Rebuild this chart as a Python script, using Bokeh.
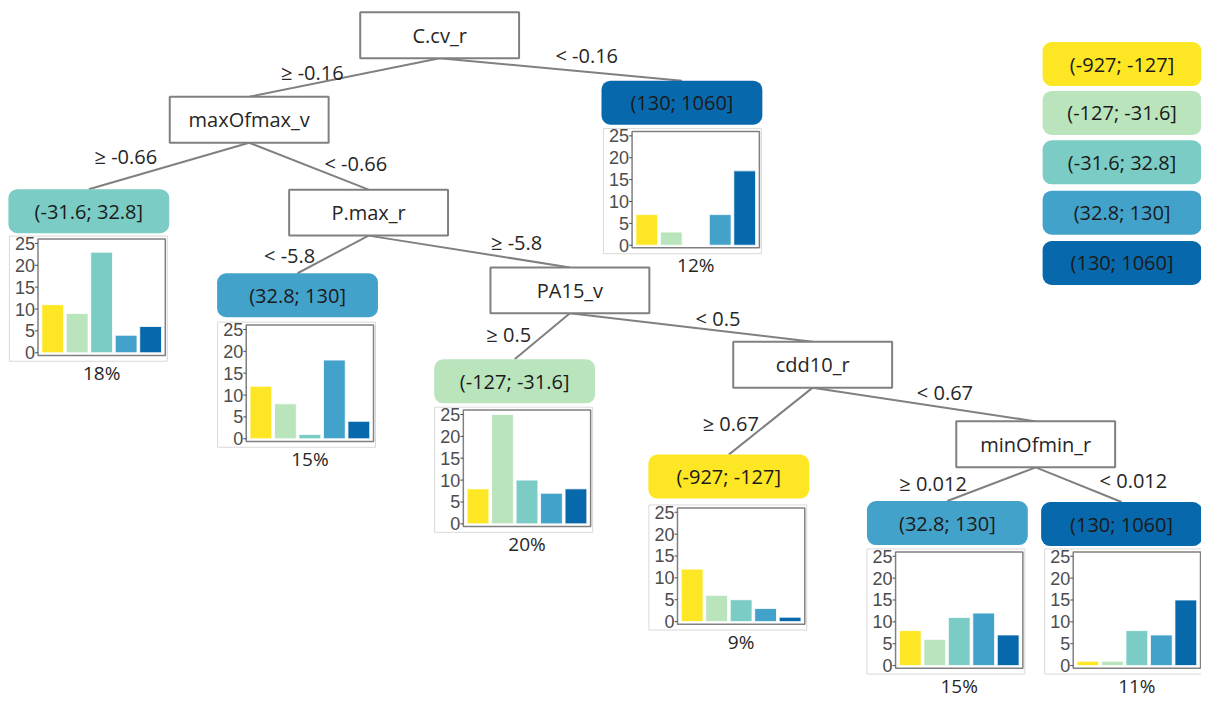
from bokeh.plotting import figure
from bokeh.models import Range1d
from bokeh.core.properties import value
from bokeh.embed import file_html
from bokeh.resources import INLINE

# ---------------- data ----------------
classes = ["(-927; -127]", "(-127; -31.6]", "(-31.6; 32.8]", "(32.8; 130]", "(130; 1060]"]
class_colors = ["#FDE725", "#BAE4BC", "#7BCCC4", "#43A2CA", "#0868AC"]

split_vars = ["C.cv_r", "maxOfmax_v", "P.max_r", "PA15_v", "cdd10_r", "minOfmin_r"]
split_left = ["≥ -0.16", "≥ -0.66", "< -5.8", "≥ 0.5", "≥ 0.67", "≥ 0.012"]
split_right = ["< -0.16", "< -0.66", "≥ -5.8", "< 0.5", "< 0.67", "< 0.012"]

# leaves (in the order they are listed in the layout below)
leaf_class = [2, 4, 3, 1, 0, 3, 4]
leaf_pct = ["18%", "12%", "15%", "20%", "9%", "15%", "11%"]
leaf_counts = [
    [11, 9, 23, 4, 6],
    [7, 3, 0, 7, 17],
    [12, 8, 1, 18, 4],
    [8, 25, 10, 7, 8],
    [12, 6, 5, 3, 1],
    [8, 6, 11, 12, 7],
    [1, 1, 8, 7, 15],
]
tick_values = [0, 5, 10, 15, 20, 25]
tick_labels = ["0", "5", "10", "15", "20", "25"]

# ---------------- layout (reference-pixel positions) ----------------
W, H = 1201, 699
X0, X1 = 0, 1217
YT, YB = 0, 715

node_xy = [(445, 35.5), (252, 122), (373, 217), (577, 296.5), (823, 372.5), (1049, 454)]
NODE_W, NODE_H = 161, 47
leaf_xy = [(89.5, 215.5), (690.5, 104.5), (301, 301.5), (521, 389.5), (738, 487), (959.5, 534.5), (1136, 535.5)]
LEAF_W, LEAF_H = 163, 45
chart_origin = [(38, 244), (640, 134), (249, 332), (469, 419), (686, 519), (907, 564), (1087, 564)]
PW, PH = 129, 119
DX0, DX1, DY0, DY1 = 0.4, 5.6, -0.6, 26.0

# children of each split node: ("n", idx) split node or ("l", idx) leaf
children = [
    (("n", 1), ("l", 1)),
    (("l", 0), ("n", 2)),
    (("l", 2), ("n", 3)),
    (("l", 3), ("n", 4)),
    (("l", 4), ("n", 5)),
    (("l", 5), ("l", 6)),
]
left_lab_xy = [(316, 74), (127, 160), (293, 261), (515, 342), (740, 433), (945, 494)]
right_lab_xy = [(594, 56), (360, 167), (523, 248), (727, 325), (957, 401), (1148, 491)]
legend_x = 1136.5
legend_y = [65, 115, 165.5, 217, 268.5]
LEG_W, LEG_H = 161, 45

FONT = value("Open Sans")
TXT = "#262626"
GRAY = "#808080"

p = figure(width=W, height=H, output_backend="svg", toolbar_location=None,
           x_range=Range1d(X0, X1), y_range=Range1d(YB, YT),
           x_axis_type=None, y_axis_type=None, min_border=0)
p.outline_line_color = None
p.background_fill_color = "white"
p.border_fill_color = "white"

# ---------------- edges ----------------
ex0, ey0, ex1, ey1 = [], [], [], []
for i, (a, b) in enumerate(children):
    px, py = node_xy[i]
    for kind, j in (a, b):
        if kind == "n":
            cx, cy = node_xy[j]
            top = cy - NODE_H / 2
        else:
            cx, cy = leaf_xy[j]
            top = cy - LEAF_H / 2
        ex0.append(px); ey0.append(py + NODE_H / 2)
        ex1.append(cx); ey1.append(top)
p.segment(x0=ex0, y0=ey0, x1=ex1, y1=ey1, line_color=GRAY, line_width=2)

# ---------------- split nodes ----------------
p.rect(x=[q[0] for q in node_xy], y=[q[1] for q in node_xy], width=NODE_W, height=NODE_H,
       fill_color="white", line_color=GRAY, line_width=2)
p.text(x=[q[0] for q in node_xy], y=[q[1] for q in node_xy], text=split_vars,
       text_align="center", text_baseline="middle", text_font=FONT,
       text_font_size="20px", text_color=TXT)

# edge labels
p.text(x=[q[0] for q in left_lab_xy] + [q[0] for q in right_lab_xy],
       y=[q[1] for q in left_lab_xy] + [q[1] for q in right_lab_xy],
       text=split_left + split_right, text_align="center", text_baseline="middle",
       text_font=FONT, text_font_size="20px", text_color=TXT)

# ---------------- leaf label boxes ----------------
lx = [q[0] for q in leaf_xy]
ly = [q[1] for q in leaf_xy]
p.quad(left=[x - LEAF_W / 2 for x in lx], right=[x + LEAF_W / 2 for x in lx],
       top=[y - LEAF_H / 2 for y in ly], bottom=[y + LEAF_H / 2 for y in ly],
       fill_color=[class_colors[c] for c in leaf_class], line_color=None, border_radius=9)
p.text(x=lx, y=ly, text=[classes[c] for c in leaf_class], text_align="center",
       text_baseline="middle", text_font=FONT, text_font_size="20px", text_color="#1a1a1a")

# ---------------- legend ----------------
p.quad(left=[legend_x - LEG_W / 2] * 5, right=[legend_x + LEG_W / 2] * 5,
       top=[y - LEG_H / 2 for y in legend_y], bottom=[y + LEG_H / 2 for y in legend_y],
       fill_color=class_colors, line_color=None, border_radius=9)
p.text(x=[legend_x] * 5, y=legend_y, text=classes, text_align="center", text_baseline="middle",
       text_font=FONT, text_font_size="20px", text_color="#1a1a1a")

# ---------------- mini bar charts ----------------
kx = (DX1 - DX0) / PW
ky = (DY1 - DY0) / PH
for i, (ox, oy) in enumerate(chart_origin):
    xn, yn = "cx%d" % i, "cy%d" % i
    p.extra_x_ranges[xn] = Range1d(DX0 - (ox - X0) * kx, DX0 + (X1 - ox) * kx)
    p.extra_y_ranges[yn] = Range1d(DY0 - (YB - (oy + PH)) * ky, DY1 + (oy - YT) * ky)
    # outer light box
    p.quad(left=[ox - 29], right=[ox + PW + 2], top=[oy - 3], bottom=[oy + PH + 6],
           fill_color=None, line_color="#D9D9D9", line_width=1)
    # panel frame
    p.quad(left=[DX0], right=[DX1], bottom=[DY0], top=[DY1], fill_color="white",
           line_color=GRAY, line_width=1.5, x_range_name=xn, y_range_name=yn)
    p.vbar(x=[1, 2, 3, 4, 5], top=leaf_counts[i], bottom=0, width=0.89,
           fill_color=class_colors, line_color="white", line_width=0.8,
           x_range_name=xn, y_range_name=yn)
    p.segment(x0=[DX0 - 3 * kx] * 6, x1=[DX0] * 6, y0=tick_values, y1=tick_values,
              line_color="#4D4D4D", line_width=1, x_range_name=xn, y_range_name=yn)
    p.text(x=[DX0 - 3 * kx] * 6, y=tick_values, text=tick_labels, text_align="right",
           text_baseline="middle", text_font=value("Liberation Sans"), text_font_size="18px",
           text_color="#4D4D4D", x_range_name=xn, y_range_name=yn)
    p.text(x=[ox + PW / 2], y=[oy + 137], text=[leaf_pct[i]], text_align="center",
           text_baseline="middle", text_font=FONT, text_font_size="19px", text_color=TXT)

open("out.html", "w").write(file_html(p, INLINE))
